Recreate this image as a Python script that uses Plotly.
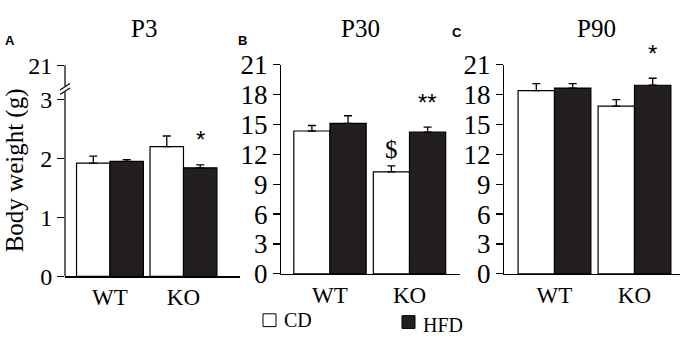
import plotly.graph_objects as go

W, H = 680, 348

# ---------------- data ----------------
groups = ["WT", "KO"]
diets = ["CD", "HFD"]

p3_cd = [1.92, 2.20]
p3_cd_err = [0.12, 0.18]
p3_hfd = [1.95, 1.84]
p3_hfd_err = [0.03, 0.05]

p30_cd = [14.34, 10.24]
p30_cd_err = [0.55, 0.60]
p30_hfd = [15.10, 14.22]
p30_hfd_err = [0.77, 0.50]

p90_cd = [18.40, 16.84]
p90_cd_err = [0.70, 0.65]
p90_hfd = [18.65, 18.93]
p90_hfd_err = [0.45, 0.70]

# significance marks (CD list, HFD list) per group
p3_sig_cd = ["", ""]
p3_sig_hfd = ["", "*"]
p30_sig_cd = ["", "$"]
p30_sig_hfd = ["", "**"]
p90_sig_cd = ["", ""]
p90_sig_hfd = ["", "*"]

titles = ["P3", "P30", "P90"]
letters = ["A", "B", "C"]

p3_tickvals = [0, 1, 2, 3, 3.58]
p3_ticktext = ["0", "1", "2", "3", "21"]
big_tickvals = [0, 3, 6, 9, 12, 15, 18, 21]

# ---------------- styling ----------------
SERIF = "Liberation Serif, Times New Roman, serif"
SANS = "Liberation Sans, Arial, sans-serif"
DARK = "#231f20"
BARGAP = 0.09


def px_x(p):
    return p / W


def px_y(p):
    return 1 - p / H


panels = [
    dict(cd=p3_cd, cde=p3_cd_err, hfd=p3_hfd, hfde=p3_hfd_err,
         scd=p3_sig_cd, shfd=p3_sig_hfd,
         xdom=[px_x(65), px_x(240)], ydom=[px_y(286), px_y(55)],
         xr=[-0.612, 1.769], yr=[0, 3.58], tv=p3_tickvals, tt=p3_ticktext,
         tfs=24, title_x=144, letter_xy=(10, 28)),
    dict(cd=p30_cd, cde=p30_cd_err, hfd=p30_hfd, hfde=p30_hfd_err,
         scd=p30_sig_cd, shfd=p30_sig_hfd,
         xdom=[px_x(281), px_x(460)], ydom=[px_y(283.3), px_y(54.3)],
         xr=[-0.616, 1.635], yr=[0, 21], tv=big_tickvals,
         tt=[str(v) for v in big_tickvals],
         tfs=27, title_x=360, letter_xy=(242, 28)),
    dict(cd=p90_cd, cde=p90_cd_err, hfd=p90_hfd, hfde=p90_hfd_err,
         scd=p90_sig_cd, shfd=p90_sig_hfd,
         xdom=[px_x(504), px_x(680)], ydom=[px_y(283.3), px_y(54.3)],
         xr=[-0.631, 1.569], yr=[0, 21], tv=big_tickvals,
         tt=[str(v) for v in big_tickvals],
         tfs=27, title_x=596, letter_xy=(457, 19)),
]

fig = go.Figure()
annotations = []
shapes = []
axes_layout = {}
xpos = list(range(len(groups)))
half = (1 - BARGAP) / 4

for i, p in enumerate(panels):
    n = "" if i == 0 else str(i + 1)
    xa, ya = "x" + n, "y" + n
    fig.add_trace(go.Bar(
        x=xpos, y=p["cd"], name="CD", xaxis=xa, yaxis=ya, showlegend=False,
        hoverinfo="skip",
        marker=dict(color="white", line=dict(color="black", width=1.2)),
        error_y=dict(type="data", symmetric=False, array=p["cde"],
                     arrayminus=[0] * len(p["cde"]), color="black",
                     thickness=1.3, width=4)))
    fig.add_trace(go.Bar(
        x=xpos, y=p["hfd"], name="HFD", xaxis=xa, yaxis=ya, showlegend=False,
        hoverinfo="skip",
        marker=dict(color=DARK, line=dict(color="black", width=1.2)),
        error_y=dict(type="data", symmetric=False, array=p["hfde"],
                     arrayminus=[0] * len(p["hfde"]), color="black",
                     thickness=1.3, width=4)))

    axes_layout["xaxis" + n] = dict(
        domain=p["xdom"], range=p["xr"], anchor=ya, tickmode="array",
        tickvals=xpos, ticktext=groups, showline=True, linecolor="black",
        linewidth=1.2, ticks="", showgrid=False, zeroline=False,
        fixedrange=True,
        tickfont=dict(family=SERIF, size=23, color="black"))
    axes_layout["yaxis" + n] = dict(
        domain=p["ydom"], range=p["yr"], anchor=xa, tickmode="array",
        tickvals=p["tv"], ticktext=p["tt"], showline=(i != 0),
        linecolor="black", linewidth=1.2, ticks="outside", ticklen=7,
        tickwidth=1.2, tickcolor="black", showgrid=False, zeroline=False,
        fixedrange=True,
        tickfont=dict(family=SERIF, size=p["tfs"], color="black"))

    # significance marks derived from the data
    for g in xpos:
        for vals, errs, sig, off in ((p["cd"], p["cde"], p["scd"], -half),
                                     (p["hfd"], p["hfde"], p["shfd"], half)):
            s = sig[g]
            if not s:
                continue
            if s == "$":
                font = dict(family=SERIF, size=25, color="black")
                shift = 16
            else:
                font = dict(family=SANS, size=24, color="black")
                shift = 25
            annotations.append(dict(
                x=g + off, y=vals[g] + errs[g], xref=xa, yref=ya, text=s,
                showarrow=False, yanchor="middle", yshift=shift, font=font))

    # panel title and letter
    annotations.append(dict(
        x=px_x(p["title_x"]), y=px_y(15), xref="paper", yref="paper",
        text=titles[i], showarrow=False, xanchor="center", yanchor="middle",
        font=dict(family=SERIF, size=25, color="black")))
    lx, ly = p["letter_xy"]
    annotations.append(dict(
        x=px_x(lx), y=px_y(ly), xref="paper", yref="paper",
        text="<b>%s</b>" % letters[i], showarrow=False, xanchor="center",
        yanchor="middle", font=dict(family=SANS, size=13, color="black")))

# broken y axis for panel A
ax = 65
shapes += [
    dict(type="line", xref="paper", yref="paper", x0=px_x(ax), x1=px_x(ax),
         y0=px_y(286), y1=px_y(84), line=dict(color="black", width=1.2)),
    dict(type="line", xref="paper", yref="paper", x0=px_x(ax), x1=px_x(ax),
         y0=px_y(78), y1=px_y(55), line=dict(color="black", width=1.2)),
    dict(type="line", xref="paper", yref="paper", x0=px_x(60), x1=px_x(70),
         y0=px_y(82), y1=px_y(75), line=dict(color="black", width=1.2)),
    dict(type="line", xref="paper", yref="paper", x0=px_x(60), x1=px_x(70),
         y0=px_y(87), y1=px_y(80), line=dict(color="black", width=1.2)),
]

# y-axis title
annotations.append(dict(
    x=px_x(15), y=px_y(170), xref="paper", yref="paper",
    text="Body weight (g)", showarrow=False, textangle=-90,
    xanchor="center", yanchor="middle",
    font=dict(family=SERIF, size=25, color="black")))

# legend
legend_items = [(diets[0], "white", 263, 334), (diets[1], DARK, 402, 336)]
for name, color, sx, cy in legend_items:
    shapes.append(dict(type="rect", xref="paper", yref="paper",
                       x0=px_x(sx), x1=px_x(sx + 13), y0=px_y(cy + 7),
                       y1=px_y(cy - 7), fillcolor=color,
                       line=dict(color="black", width=1)))
    annotations.append(dict(
        x=px_x(sx + 19), y=px_y(cy + (3 if name == "HFD" else 0)),
        xref="paper", yref="paper", text=name, showarrow=False,
        xanchor="left", yanchor="middle",
        font=dict(family=SERIF, size=20, color="black")))

fig.update_layout(
    width=W, height=H, autosize=False,
    margin=dict(l=0, r=0, t=0, b=0),
    paper_bgcolor="white", plot_bgcolor="white",
    font=dict(family=SERIF, color="black"),
    barmode="group", bargap=BARGAP, bargroupgap=0,
    hovermode=False,
    annotations=annotations, shapes=shapes, showlegend=False,
    **axes_layout)

fig.write_html(
    "out.html",
    config={"displayModeBar": False, "staticPlot": True},
    post_script="document.body.style.margin='0';"
                "document.body.style.padding='0';"
                "document.body.style.overflow='hidden';")
